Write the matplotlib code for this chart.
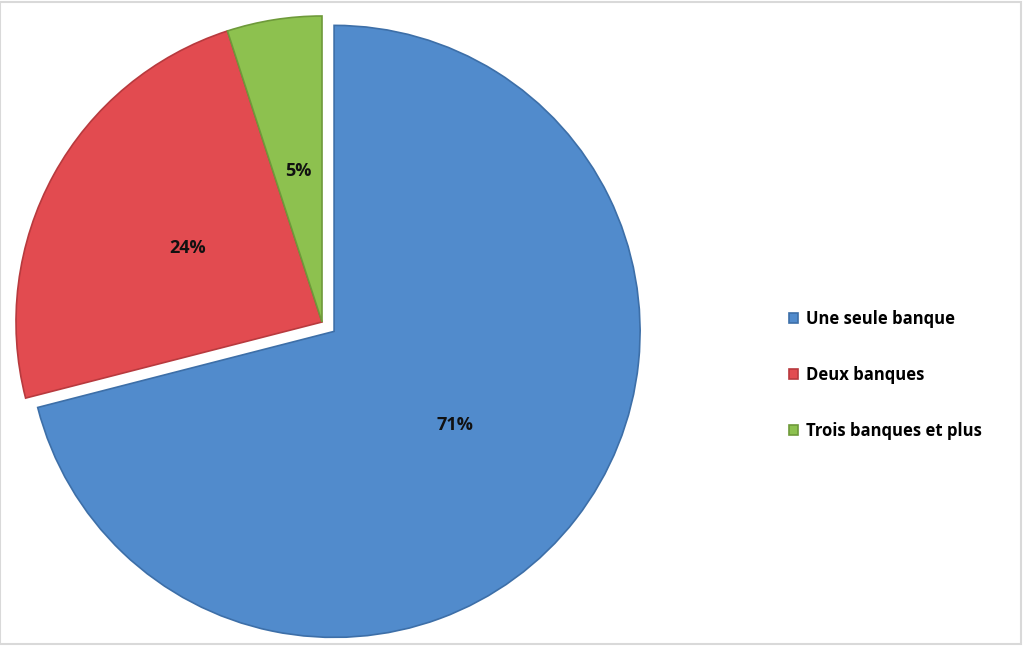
import matplotlib
matplotlib.use('Agg')
import matplotlib.pyplot as plt
from matplotlib.patches import Rectangle

labels = ['Une seule banque', 'Deux banques', 'Trois banques et plus']
shares = [71, 24, 5]
colors = ['#518BCC', '#E24B50', '#8DC14F']
edges = ['#3D6FA8', '#B83A3E', '#6E9A3A']

plt.rcParams['font.family'] = ['Open Sans', 'DejaVu Sans']

W, H = 1024, 646
fig = plt.figure(figsize=(W / 100, H / 100), dpi=100)
ax = fig.add_axes([0, 0, 1, 1])

wedges, texts, autotexts = ax.pie(
    shares, colors=colors, startangle=90, counterclock=False,
    explode=[0.05, 0, 0], autopct='%d%%', pctdistance=0.5,
    wedgeprops=dict(linewidth=1.2), radius=1.0,
    textprops=dict(fontsize=13, fontweight='bold', color='#111111'),
)
for w, e in zip(wedges, edges):
    w.set_edgecolor(e)

# pie centre at pixel (322, 322 from top), radius ~306 px
r_px = 306.0
cx, cy = 322.0, H - 322.0
ax.set_xlim(-cx / r_px, (W - cx) / r_px)
ax.set_ylim(-cy / r_px, (H - cy) / r_px)
ax.set_aspect('equal')
ax.axis('off')

fig.legend(wedges, labels, loc='center left', bbox_to_anchor=(774 / W, 1 - 375 / H),
           frameon=False, prop=dict(weight='bold', size=12),
           handlelength=0.55, handleheight=0.55, handletextpad=0.5,
           labelspacing=2.3)

fig.patches.append(Rectangle((0, 2 / H), 1021 / W, 1 - 4 / H, transform=fig.transFigure,
                             fill=False, edgecolor='#d9d9d9', linewidth=1.5))

fig.savefig('out.png', dpi=100)
